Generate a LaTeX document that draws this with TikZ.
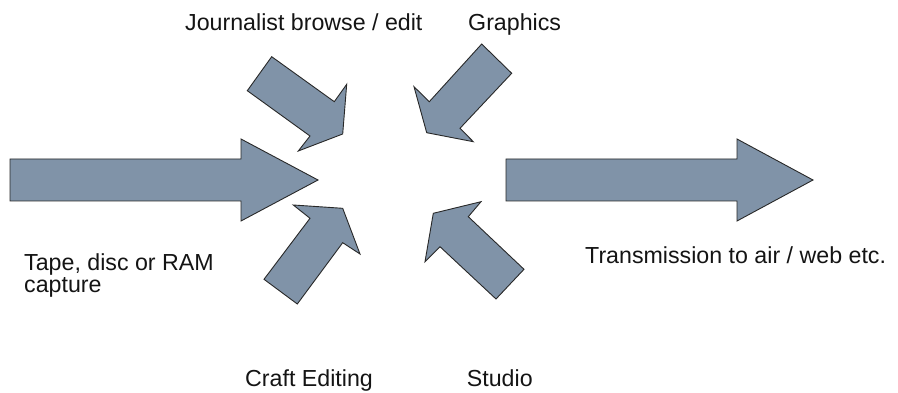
\documentclass[tikz,border=0pt]{standalone}
\usepackage{fontspec}
\setmainfont{Liberation Sans}
\definecolor{arrowfill}{RGB}{128,147,168}
\definecolor{arrowline}{RGB}{40,40,40}
\definecolor{labeltext}{RGB}{20,20,20}
\begin{document}
\begin{tikzpicture}[x=1pt,y=-1pt,
  blockarrow/.style={fill=arrowfill,draw=arrowline,line width=0.9pt,line join=miter},
  lbl/.style={anchor=base west,inner sep=0pt,text=labeltext,font=\fontsize{23.2}{24}\selectfont}]
\useasboundingbox (0,0) rectangle (898,393);
% big input arrow
\draw[blockarrow] (10,159) -- (241,159) -- (241,139) -- (318,180) -- (241,221) -- (241,201) -- (10,201) -- cycle;
% big output arrow
\draw[blockarrow] (506,159) -- (737,159) -- (737,139) -- (813,180) -- (737,221) -- (737,201) -- (506,201) -- cycle;
% journalist arrow
\draw[blockarrow] (271.7,56.7) -- (334.3,101.7) -- (346.7,84.3) -- (342.7,134) -- (298.3,151) -- (310,136) -- (247.3,90.7) -- cycle;
% graphics arrow
\draw[blockarrow] (481.7,44) -- (511.7,73.3) -- (460,128.3) -- (473.3,141.7) -- (426.7,132.7) -- (414,86.7) -- (429.3,101.7) -- cycle;
% craft editing arrow
\draw[blockarrow] (264,279.3) -- (297.3,304) -- (342.7,242.7) -- (360,254) -- (342.7,208.3) -- (293.3,205) -- (310,218.3) -- cycle;
% studio arrow
\draw[blockarrow] (496,299) -- (524,269.3) -- (468.3,216.7) -- (481,201.7) -- (433.3,213.3) -- (425,261.7) -- (440,246.7) -- cycle;
% labels
\node[lbl] (journ) at (185,30.7) {Journalist browse / edit};
\node[lbl] (graph) at (468,30.7) {Graphics};
\node[lbl] (tapeA) at (24,271) {Tape, disc or RAM};
\node[lbl] (tapeB) at (24,292.3) {capture};
\node[lbl] (trans) at (585,264) {Transmission to air / web etc.};
\node[lbl] (craft) at (245,386.7) {Craft Editing};
\node[lbl] (studio) at (466.7,386.7) {Studio};
\end{tikzpicture}
\end{document}
